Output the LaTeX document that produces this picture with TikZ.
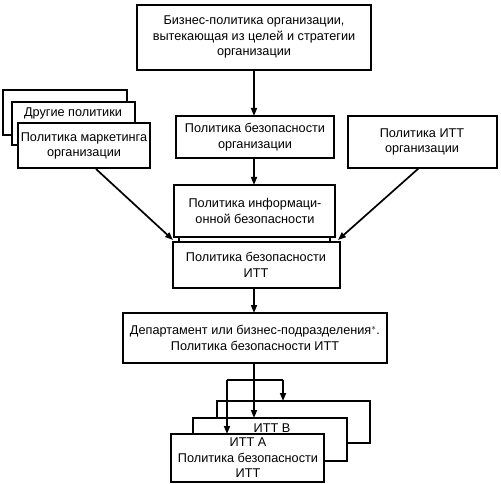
\documentclass[tikz,border=0pt]{standalone}
\usepackage{fontspec}
\setmainfont{Liberation Sans}
\usetikzlibrary{arrows.meta}
\tikzset{
  box/.style={draw, line width=1.7pt, fill=white},
  lbl/.style={align=center, font=\fontsize{12.7}{15.5}\selectfont, inner sep=0pt},
  arr/.style={line width=1.7pt, -{Triangle[length=8pt,width=6pt]}},
  ln/.style={line width=1.7pt}
}
\begin{document}
\begin{tikzpicture}[x=1pt,y=-1pt]
\useasboundingbox (0,0) rectangle (501,484);
% top
\draw[box] (137,5) rectangle (371,70);
\node[lbl] (top) at (254,37) {Бизнес-политика организации,\\вытекающая из целей и стратегии\\организации};
% security org
\draw[box] (176,116) rectangle (334,158);
\node[lbl] (sec) at (255,137) {Политика безопасности\\организации};
% left stack
\draw[box] (3,90) rectangle (127,135);
\draw[box] (12,102) rectangle (135,145);
\node[lbl] (oth) at (73,113) {Другие политики};
\draw[box] (18,123) rectangle (150,168);
\node[lbl] (mkt) at (84,146) {Политика маркетинга\\организации};
% right
\draw[box] (348,116) rectangle (497,168);
\node[lbl] (itt) at (422,142) {Политика ИТТ\\организации};
% info sec
\draw[box] (174,185) rectangle (335,237);
\node[lbl] (info) at (255,211) {Политика информаци-\\онной безопасности};
\draw[ln] (179,237) -- (179,242);
\draw[ln] (330,237) -- (330,242);
% IT sec
\draw[box] (173,242) rectangle (340,288);
\node[lbl] (itsec) at (256,265) {Политика безопасности\\ИТТ};
% dept
\draw[box] (123,313) rectangle (387,363);
\node[lbl] (dept) at (255,338) {Департамент или бизнес-подразделения$^{*}$.\\Политика безопасности ИТТ};
% bottom stack
\draw[box] (217,401) rectangle (370,443);
\draw[box] (193,418) rectangle (347,461);
\node[lbl] (b) at (272,428) {ИТТ В};
\draw[box] (171,434) rectangle (324,482);
\node[lbl] (a) at (248,458) {ИТТ А\\Политика безопасности\\ИТТ};
% coordinates
\coordinate (topb) at (254,70);
\coordinate (sect) at (254,116);
\coordinate (secb) at (254,158);
\coordinate (infot) at (254,185);
\coordinate (mktb) at (96,169);
\coordinate (jl) at (173,240);
\coordinate (ittb) at (419,168);
\coordinate (jr) at (338,240);
\coordinate (itb) at (254,288);
\coordinate (deptt) at (254,313);
\coordinate (deptb) at (254,363);
\coordinate (hl) at (227,380);
\coordinate (hr) at (283,380);
\coordinate (at) at (227,434);
\coordinate (bt) at (254,418);
\coordinate (ct) at (283,401);
\draw[arr] (topb) -- (sect);
\draw[arr] (secb) -- (infot);
\draw[arr] (mktb) -- (jl);
\draw[arr] (ittb) -- (jr);
\draw[arr] (itb) -- (deptt);
\draw[arr] (deptb) -- (bt);
\draw[ln] (hl) -- (hr);
\draw[arr] (hl) -- (at);
\draw[arr] (hr) -- (ct);
\end{tikzpicture}
\end{document}
